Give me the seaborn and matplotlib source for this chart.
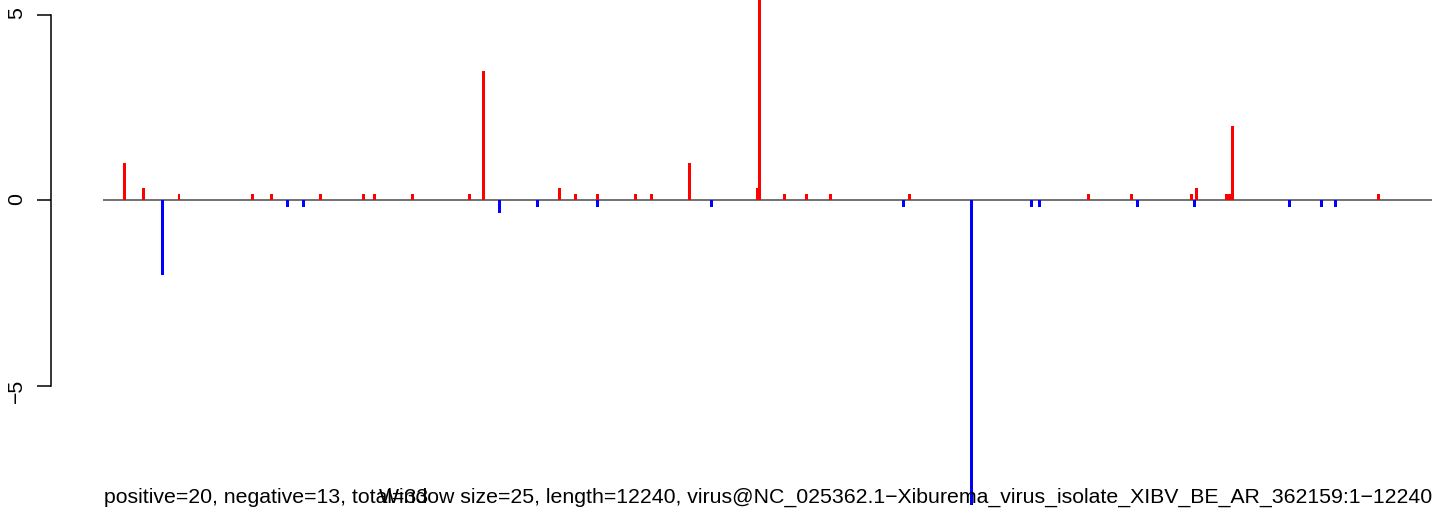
import pandas as pd
import matplotlib
matplotlib.use("Agg")
import matplotlib.pyplot as plt
import seaborn as sns

# window start (bp) and score per window
positions = [200, 375, 550, 700, 1375, 1550, 1700, 1850, 2000, 2400,
             2500, 2850, 3375, 3500, 3650, 4000, 4200, 4350, 4550, 4550,
             4900, 5050, 5400, 5600, 6025, 6050, 6275, 6475, 6700, 7375,
             7425, 8000, 8550, 8625, 9075, 9475, 9525, 10025, 10050, 10075,
             10350, 10375, 10400, 10925, 11225, 11350, 11750]
scores = [1.0, 0.33, -2.0, 0.17, 0.17, 0.17, -0.17, -0.17, 0.17, 0.17,
          0.17, 0.17, 0.17, 3.5, -0.33, -0.17, 0.33, 0.17, 0.17, -0.17,
          0.17, 0.17, 1.0, -0.17, 0.33, 6.0, 0.17, 0.17, 0.17, -0.17,
          0.17, -8.5, -0.17, -0.17, 0.17, 0.17, -0.17, 0.17, -0.17, 0.33,
          0.17, 0.17, 2.0, -0.17, -0.17, -0.17, 0.17]

genome_length = 12240
window_size = 25
n_pos, n_neg = 20, 13
seq_name = "virus@NC_025362.1\u2212Xiburema_virus_isolate_XIBV_BE_AR_362159:1\u221212240"

df = pd.DataFrame({"pos": positions, "score": scores})
df["sign"] = ["pos" if s > 0 else "neg" for s in df["score"]]

sns.set_theme(style="white")
plt.rcParams["font.family"] = ["Liberation Sans", "DejaVu Sans"]

W, H = 1444, 512
fs = 15.3
fig = plt.figure(figsize=(W / 100, H / 100), dpi=100)
ax = fig.add_axes([103 / W, 7 / H, (1432 - 103) / W, (H - 7) / H])

ax.axhline(0, color="#666666", lw=1.3, zorder=0)
sns.barplot(data=df, x="pos", y="score", hue="sign", orient="x",
            native_scale=True, dodge=False, width=1.1, errorbar=None,
            palette={"pos": "red", "neg": "blue"}, saturation=1,
            linewidth=0, legend=False, ax=ax)

ax.set_xlim(0, genome_length)
ax.set_ylim(-(505 - 200.5) / 37.1, 200.5 / 37.1)
ax.set_xlabel("")
ax.set_ylabel("")
ax.set_xticks([])
ax.set_yticks([-5, 0, 5])
ax.set_yticklabels(["\u22125", "0", "5"])
ax.tick_params(axis="y", left=True, length=10, width=1.1, pad=8,
               labelrotation=90, labelsize=fs, color="black",
               labelcolor="black")
for lab in ax.get_yticklabels():
    lab.set_va("center")

for side in ["top", "right", "bottom"]:
    ax.spines[side].set_visible(False)
ax.spines["left"].set_position(("outward", 52 * 0.72))
ax.spines["left"].set_bounds(-5, 5)
ax.spines["left"].set_color("black")
ax.spines["left"].set_linewidth(1.1)
ax.patch.set_alpha(0)

fig.text(104 / W, 9 / H, f"positive={n_pos}, negative={n_neg}, total={n_pos + n_neg}",
         ha="left", va="baseline", fontsize=fs, color="black")
fig.text(1432 / W, 9 / H,
         f"Window size={window_size}, length={genome_length}, {seq_name}",
         ha="right", va="baseline", fontsize=fs, color="black")

fig.savefig("out.png", dpi=100, facecolor="white")
